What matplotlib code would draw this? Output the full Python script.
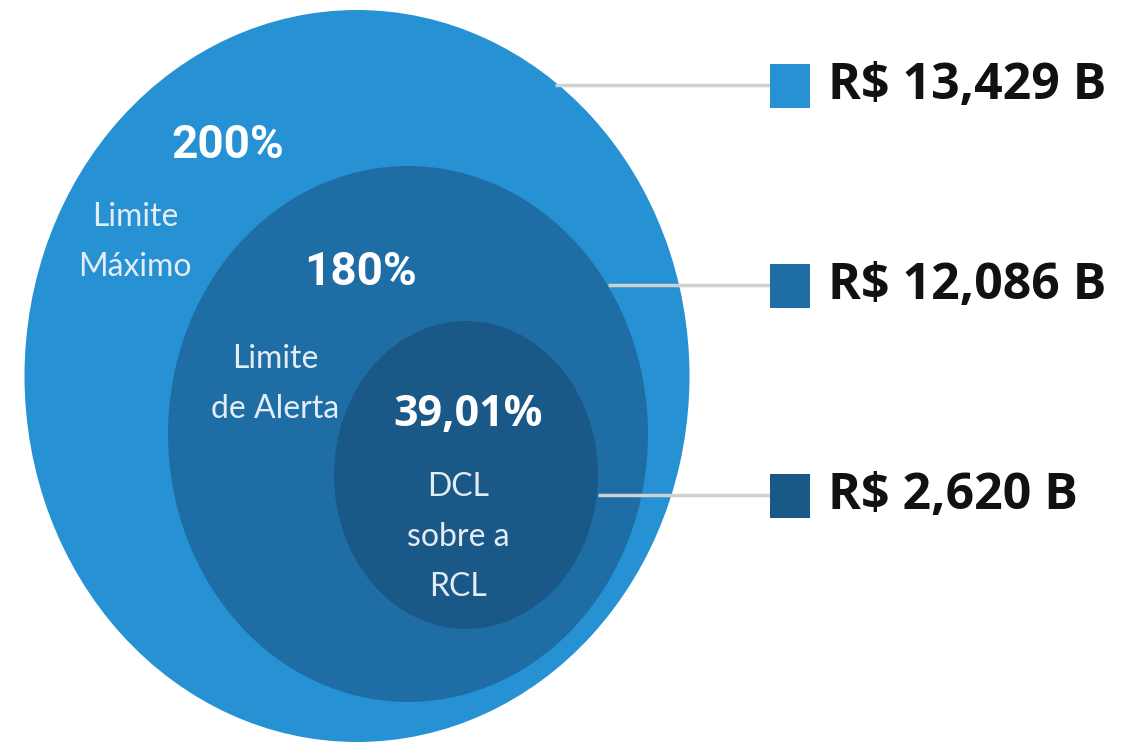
import matplotlib
matplotlib.use('Agg')
import matplotlib.pyplot as plt
from matplotlib.patches import Ellipse, Rectangle

# nested limits, outer -> inner
percents = ['200%', '180%', '39,01%']
captions = ['Limite\nMáximo', 'Limite\nde Alerta', 'DCL\nsobre a\nRCL']
amounts = ['R$ 13,429 B', 'R$ 12,086 B', 'R$ 2,620 B']
colors = ['#2692d4', '#1e6ea5', '#195887']

# layout (pixels, y downwards)
ellipses = [(357, 376, 665, 732), (408, 434, 480, 536), (466, 475, 264, 308)]
pct_pos = [(228, 145), (361, 272), (468, 414)]
cap_pos = [(135, 242), (275, 384), (458, 537)]
line_y = [85, 285, 495]
line_x0 = [555, 608, 598]

fig = plt.figure(figsize=(11.22, 7.43), dpi=100)
ax = fig.add_axes([0, 0, 1, 1])
ax.set_xlim(0, 1122)
ax.set_ylim(743, 0)
ax.axis('off')

for (cx, cy, w, h), c in zip(ellipses, colors):
    ax.add_patch(Ellipse((cx, cy), w, h, color=c, lw=0))

# connector lines and legend squares
for i in range(3):
    ax.plot([line_x0[i], 772], [line_y[i], line_y[i]], color='#d0d0d0', lw=2.5,
            solid_capstyle='butt', zorder=3)
    ax.add_patch(Rectangle((770, line_y[i] - 21), 40, 44, color=colors[i], lw=0, zorder=4))
    ax.text(828, line_y[i] + 1, amounts[i], fontsize=36, fontweight='bold',
            family='Open Sans', color='#111111', va='center', ha='left')

pct_fonts = ['Roboto', 'Roboto', 'Open Sans']
pct_sizes = [33, 33, 31]
for i in range(3):
    ax.text(pct_pos[i][0], pct_pos[i][1], percents[i], fontsize=pct_sizes[i],
            fontweight='bold', family=pct_fonts[i], color='white', ha='center', va='center')
    ax.text(cap_pos[i][0], cap_pos[i][1], captions[i], fontsize=23,
            family='Lato', color='#e4edf6', ha='center', va='center', linespacing=1.85)

fig.savefig('out.png', dpi=100)
